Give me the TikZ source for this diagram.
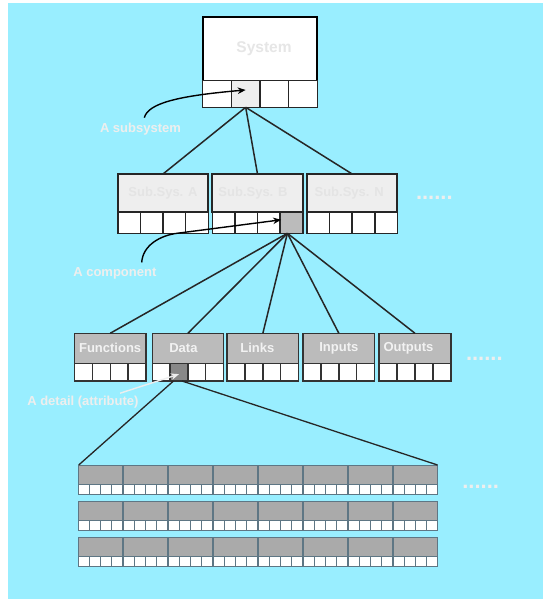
\documentclass[tikz,border=0pt]{standalone}
\usepackage{fontspec}
\setmainfont{Liberation Sans}
\usetikzlibrary{calc,arrows.meta}

\definecolor{bg}{HTML}{99EEFF}
\definecolor{systext}{HTML}{E6E6E6}
\definecolor{subfill}{HTML}{EEEEEE}
\definecolor{subtext}{HTML}{E4E4E4}
\definecolor{attrfill}{HTML}{BBBBBB}
\definecolor{attrline}{HTML}{333333}
\definecolor{attrtext}{HTML}{F2F2F2}
\definecolor{leaffill}{HTML}{AAAAAA}
\definecolor{leafline}{HTML}{5E7684}
\definecolor{notetext}{HTML}{EEEEEE}
\definecolor{hlone}{HTML}{EEEEEE}
\definecolor{hltwo}{HTML}{BBBBBB}
\definecolor{hlthree}{HTML}{888888}

% A record box: a titled upper part over a row of four cells.
% #1 name, #2 style family, #3 left, #4 top, #5 width,
% #6 upper height, #7 cell height, #8 cell fills, #9 title
\newcommand\mkbox[9]{%
  \node[#2, anchor=north west, minimum width=#5pt, minimum height=#6pt]
    (#1) at ({#3},{#4}) {#9};
  \foreach \f [count=\k] in {#8} {
    \node[#2 cell, fill=\f, anchor=north west,
          minimum width={#5pt/4}, minimum height=#7pt]
      (#1-\k) at ($(#1.south west)+({(\k-1)*#5/4},0)$) {};
  }%
}

\begin{document}
\begin{tikzpicture}[x=1pt,y=-1pt,
  every node/.style={inner sep=0pt, outer sep=0pt},
  sysbox/.style={draw=black, line width=1.8pt, fill=white, text=systext,
    font=\fontsize{15.5}{18}\selectfont\bfseries},
  sysbox cell/.style={draw=black!85, line width=1.5pt},
  subbox/.style={draw=black!85, line width=1.7pt, fill=subfill, text=subtext,
    font=\fontsize{13}{15}\selectfont\bfseries},
  subbox cell/.style={draw=black!85, line width=1.6pt},
  attrbox/.style={draw=attrline, line width=1.4pt, fill=attrfill, text=attrtext,
    font=\fontsize{13}{15}\selectfont\bfseries},
  attrbox cell/.style={draw=attrline, line width=1.3pt},
  leafbox/.style={draw=leafline, line width=1pt, fill=leaffill},
  leafbox cell/.style={draw=leafline, line width=0.9pt},
  conn/.style={draw=black!85, line width=1.5pt},
  note/.style={anchor=west, text=notetext, font=\fontsize{13}{15}\selectfont\bfseries},
  pointer/.style={line width=1.4pt, -{Stealth[length=8pt,width=6.5pt]}},
  more/.style={anchor=base west, text=notetext, font=\fontsize{22}{24}\selectfont\bfseries}
]
\useasboundingbox (0,0) rectangle (543,599);
\fill[bg] (8,3) rectangle (543,599);

% level 1: the system
\mkbox{sys}{sysbox}{202.7}{16.7}{114.6}{64}{26.6}{white,hlone,white,white}{\kern8pt System}

% level 2: subsystems
\mkbox{subA}{subbox}{117.7}{174}{90.6}{38.3}{21}{white,white,white,white}{Sub.Sys. A}
\mkbox{subB}{subbox}{212.3}{174}{90.4}{38.3}{21}{white,white,white,hltwo}{Sub.Sys. B\kern9pt}
\mkbox{subN}{subbox}{307}{174}{90.3}{38.3}{21}{white,white,white,white}{Sub.Sys. N\kern6pt}
\node[more] (moreB) at (416,199.8) {......};

% level 3: the parts of a component
\mkbox{fun}{attrbox}{74.3}{333.3}{71.7}{30}{17.7}{white,white,white,white}{Functions}
\mkbox{dat}{attrbox}{152.3}{333.3}{71.2}{30}{17.7}{white,hlthree,white,white}{Data\kern9pt}
\mkbox{lnk}{attrbox}{227}{333.3}{71.7}{30}{17.7}{white,white,white,white}{Links\kern11pt}
\mkbox{inp}{attrbox}{303}{333.3}{71.7}{30}{17.7}{white,white,white,white}{Inputs}
\mkbox{out}{attrbox}{379}{333.3}{72}{30}{17.7}{white,white,white,white}{Outputs\kern13pt}
\node[more] (moreC) at (466,360.5) {......};

% level 4: the details, three rows of eight
\foreach \r/\ty in {1/465,2/501,3/537.3} {
  \foreach \c in {1,...,8} {
    \mkbox{leaf-\r-\c}{leafbox}{78.7+(\c-1)*44.95}{\ty}{44.2}{19.3}{10}{white,white,white,white}{}
  }
}
\node[more] (moreD) at (462.3,488.8) {......};

% connectors
\draw[conn] (sys-2.south) -- (subA.north);
\draw[conn] (sys-2.south) -- (subB.north);
\draw[conn] (sys-2.south) -- (subN.north);

\coordinate (hubB) at ($(subB-4.south)+(-4,0)$);
\foreach \t in {fun,dat,lnk,inp,out}
  \draw[conn] (hubB) -- (\t.north);

\coordinate (hubDl) at ($(dat-2.south)+(-5.5,0)$);
\coordinate (hubDr) at ($(dat-2.south)+(3,0)$);
\draw[conn, line width=1.3pt] (hubDl) -- (leaf-1-1.north west);
\draw[conn, line width=1.3pt] (hubDr) -- (leaf-1-8.north east);

% annotations
\node[note] (lblsub) at (100,128.7) {A subsystem};
\node[note] (lblcomp) at (73.3,273.3) {A component};
\node[note] (lbldet) at (27.3,402.3) {A detail (attribute)};

\coordinate (tipsub) at ($(sys-2.center)+(0,-4)$);
\coordinate (tipcomp) at ($(subB-4.west)+(1,-3)$);
\coordinate (tipdet) at ($(dat-2.center)+(0,2)$);

\draw[pointer] ($(lblsub.north west)+(44.3,-5)$)
  .. controls +(4,-14) and ($(tipsub)+(-70,6)$) .. (tipsub);
\draw[pointer] ($(lblcomp.north west)+(68.4,-5)$)
  .. controls +(1,-17) and (160,235.5) .. (177,233.3) -- (tipcomp);
\draw[pointer, draw=notetext, fill=notetext] ($(lbldet.north west)+(92.7,-3)$) -- (tipdet);
\end{tikzpicture}
\end{document}
